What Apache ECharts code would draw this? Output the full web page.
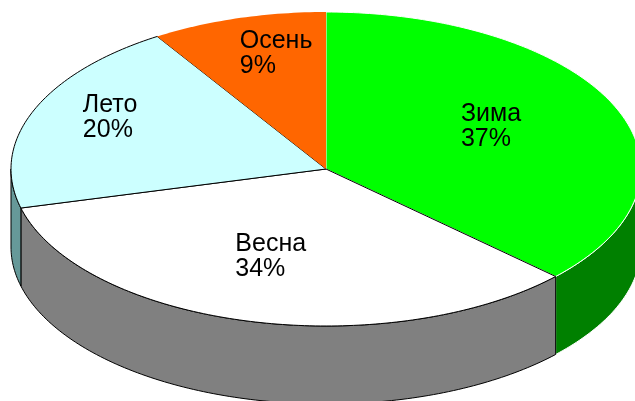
<!DOCTYPE html>
<html lang="ru">
  <head>
    <meta charset="UTF-8" />
    <title>Времена года</title>
    <script src="https://cdn.jsdelivr.net/npm/echarts@6/dist/echarts.min.js"></script>
    <style>
      html, body { margin: 0; padding: 0; background: #fff; }
      #main { width: 635px; height: 401px; }
    </style>
  </head>
  <body>
    <div id="main"></div>
    <script>
      // данные
      var seasons = ['Зима', 'Весна', 'Лето', 'Осень'];
      var values = [37, 34, 20, 9];

      // оформление
      var topColors = ['#00ff00', '#ffffff', '#ccffff', '#ff6600'];
      var sideColors = ['#008000', '#808080', '#669999', '#cc5200'];
      var edgeColors = ['#ffffff', '#000000', '#000000', null];
      var labelFrac = [0.59, 0.587, 0.76, 0.75]; // где стоит подпись, доля радиуса
      var labelTurn = [-4, 3, 4, 4]; // поворот подписи от середины сектора, град.

      var cx = 326, cy = 169, rx = 315, ry = 157, depth = 78;

      var total = values.reduce(function (a, b) { return a + b; }, 0);
      var starts = [];
      var acc = 0;
      values.forEach(function (v) {
        starts.push(acc / total * 360);
        acc += v;
      });

      var measureCtx = document.createElement('canvas').getContext('2d');
      var labelFont = '25px "Liberation Sans", Arial, sans-serif';
      measureCtx.font = labelFont;

      // угол от верха по часовой стрелке
      function pt(theta, dy) {
        var r = theta * Math.PI / 180;
        return [cx + rx * Math.sin(r), cy - ry * Math.cos(r) + (dy || 0)];
      }

      function arc(a, b, dy) {
        var pts = [];
        var n = Math.max(2, Math.ceil(Math.abs(b - a)));
        for (var i = 0; i <= n; i++) {
          pts.push(pt(a + (b - a) * i / n, dy));
        }
        return pts;
      }

      function renderItem(params, api) {
        var i = params.dataIndex;
        var v = api.value(0);
        var t1 = starts[i];
        var t2 = t1 + v / total * 360;
        var children = [];

        // боковая стенка (видна только передняя половина)
        var a = Math.max(t1, 90), b = Math.min(t2, 270);
        if (a < b) {
          var pts = arc(a, b, 0).concat(arc(b, a, depth));
          children.push({
            type: 'polygon',
            z2: 1,
            shape: { points: pts },
            style: {
              fill: sideColors[i],
              stroke: edgeColors[i] || sideColors[i],
              lineWidth: 1
            }
          });
        }

        // верхняя грань
        var topPts = [[cx, cy]].concat(arc(t1, t2, 0));
        children.push({
          type: 'polygon',
          z2: 10 + i,
          shape: { points: topPts },
          style: {
            fill: topColors[i],
            stroke: edgeColors[i] || 'none',
            lineWidth: 1
          }
        });

        // подпись
        var mid = (t1 + t2) / 2 + labelTurn[i];
        var f = labelFrac[i];
        var lr = mid * Math.PI / 180;
        var lx = cx + rx * f * Math.sin(lr);
        var ly = cy - ry * f * Math.cos(lr);
        var pct = Math.round(v / total * 100) + '%';
        var w = Math.max(measureCtx.measureText(seasons[i]).width, measureCtx.measureText(pct).width);
        children.push({
          type: 'text',
          z2: 30,
          x: lx - w / 2,
          y: ly,
          style: {
            text: seasons[i] + '\n' + pct,
            font: labelFont,
            fill: '#000',
            align: 'left',
            verticalAlign: 'middle',
            lineHeight: 25
          }
        });

        return { type: 'group', children: children };
      }

      var chart = echarts.init(document.getElementById('main'));
      var option = {
        animation: false,
        backgroundColor: '#fff',
        series: [
          {
            type: 'custom',
            coordinateSystem: 'none',
            renderItem: renderItem,
            data: values.map(function (v, i) {
              return { name: seasons[i], value: [v] };
            })
          }
        ]
      };
      chart.setOption(option);
    </script>
  </body>
</html>
